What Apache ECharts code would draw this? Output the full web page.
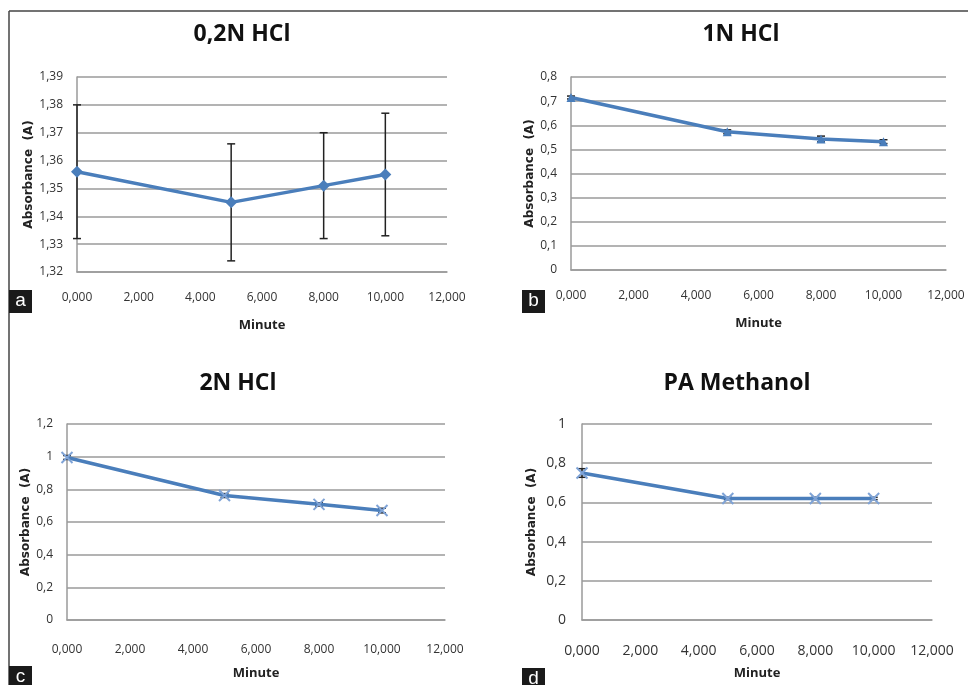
<!DOCTYPE html>
<html>
<head>
<meta charset="utf-8">
<script src="https://cdn.jsdelivr.net/npm/echarts@6/dist/echarts.min.js"></script>
<style>
html,body{margin:0;padding:0;background:#fff;}
#chart{width:968px;height:685px;}
</style>
</head>
<body>
<div id="chart"></div>
<script>
// ---- data ----
const minutes = [0, 5, 8, 10];
const xTicks = [0, 2, 4, 6, 8, 10, 12];

const hcl02 = [1.356, 1.345, 1.351, 1.355];
const hcl02Err = [0.024, 0.021, 0.019, 0.022];

const hcl1 = [0.715, 0.573, 0.543, 0.532];
const hcl1Err = [0.006, 0.008, 0.012, 0.008];

const hcl2 = [0.995, 0.762, 0.708, 0.670];
const hcl2Err = [0.012, 0.012, 0.010, 0.014];

const methanol = [0.750, 0.620, 0.620, 0.620];
const methanolErr = [0.022, 0.006, 0.006, 0.006];

const titles = ['0,2N HCl', '1N HCl', '2N HCl', 'PA Methanol'];
const panelLetters = ['a', 'b', 'c', 'd'];
const yLabel = 'Absorbance  (A)';
const xLabel = 'Minute';

// ---- layout ----
const grids = [
  {left: 77, top: 77, width: 370, height: 195},
  {left: 571, top: 77, width: 375, height: 193},
  {left: 67, top: 424, width: 378, height: 196},
  {left: 582, top: 424, width: 350, height: 196}
];
const yRanges = [
  {min: 1.32, max: 1.39, interval: 0.01},
  {min: 0, max: 0.8, interval: 0.1},
  {min: 0, max: 1.2, interval: 0.2},
  {min: 0, max: 1, interval: 0.2}
];
const yNameGaps = [42, 35, 34, 44];
const yLabelMargins = [14, 14, 14, 16];
const xLabelMargins = [20, 20, 24, 24];
const symbols = ['diamond', 'triangle', 'x', 'x'];
const crossPath = 'path://M0,0 L10,10 M10,0 L0,10';
const allVals = [hcl02, hcl1, hcl2, methanol];
const allErrs = [hcl02Err, hcl1Err, hcl2Err, methanolErr];
const titlePos = [[242, 34], [741, 34], [238, 383], [737, 383]];
const letterBoxes = [[9, 290], [522, 290], [9, 666], [522, 668]];

const FONT = '"Open Sans", sans-serif';
const lineColor = '#4a7ebb';
const gridColor = '#9a9a9a';

function fmtComma(v, dec) {
  return v.toFixed(dec).replace('.', ',');
}
function yDec(i) { return i === 0 ? 2 : 1; }

const xAxes = [], yAxes = [], series = [];
for (let i = 0; i < 4; i++) {
  xAxes.push({
    type: 'value', gridIndex: i, min: 0, max: 12, interval: 2,
    name: xLabel, nameLocation: 'middle', nameGap: 47,
    nameTextStyle: {fontFamily: FONT, fontWeight: 'bold', fontSize: 13, color: '#222'},
    axisLine: {show: true, lineStyle: {color: gridColor, width: 1.5}},
    axisTick: {show: false},
    splitLine: {show: false},
    axisLabel: {
      margin: xLabelMargins[i], fontFamily: FONT, fontSize: i === 3 ? 14 : 12, color: '#333',
      formatter: v => xTicks.indexOf(v) >= 0 ? fmtComma(v, 3) : ''
    }
  });
  const r = yRanges[i];
  yAxes.push({
    type: 'value', gridIndex: i, min: r.min, max: r.max, interval: r.interval,
    name: yLabel, nameLocation: 'middle', nameGap: yNameGaps[i],
    nameTextStyle: {fontFamily: '"DejaVu Sans", sans-serif', fontWeight: 'bold', fontSize: 12, color: '#222'},
    axisLine: {show: true, lineStyle: {color: gridColor, width: 1.5}},
    axisTick: {show: false},
    splitLine: {show: true, lineStyle: {color: gridColor, width: 1.5}},
    axisLabel: {
      margin: yLabelMargins[i], fontFamily: FONT, fontSize: i === 3 ? 14 : 12, color: '#333',
      formatter: v => {
        const s = fmtComma(v, yDec(i));
        return s.replace(/,0$/, '').replace(/^0,0$/, '0');
      }
    }
  });
  const vals = allVals[i];
  const errs = allErrs[i];
  series.push({
    type: 'line', xAxisIndex: i, yAxisIndex: i,
    data: minutes.map((m, k) => [m, vals[k]]),
    lineStyle: {color: lineColor, width: 3.5},
    itemStyle: {color: lineColor, borderColor: symbols[i] === 'x' ? '#7fa3d6' : lineColor, borderWidth: symbols[i] === 'x' ? 2 : 0},
    symbol: symbols[i] === 'x' ? crossPath : symbols[i],
    symbolSize: symbols[i] === 'diamond' ? 12 : (symbols[i] === 'triangle' ? 9 : 11),
    z: 3, silent: true, animation: false
  });
  series.push({
    type: 'custom', xAxisIndex: i, yAxisIndex: i,
    data: minutes.map((m, k) => [m, vals[k] - errs[k], vals[k] + errs[k]]),
    renderItem: function (params, api) {
      const x = api.value(0);
      const lo = api.coord([x, api.value(1)]);
      const hi = api.coord([x, api.value(2)]);
      const w = 4;
      const st = {stroke: '#222', lineWidth: 1.5};
      return {
        type: 'group',
        children: [
          {type: 'line', shape: {x1: lo[0], y1: lo[1], x2: hi[0], y2: hi[1]}, style: st},
          {type: 'line', shape: {x1: lo[0] - w, y1: lo[1], x2: lo[0] + w, y2: lo[1]}, style: st},
          {type: 'line', shape: {x1: hi[0] - w, y1: hi[1], x2: hi[0] + w, y2: hi[1]}, style: st}
        ]
      };
    },
    z: 2, silent: true, animation: false
  });
}

const graphics = [
  {type: 'line', shape: {x1: 9, y1: 11, x2: 968, y2: 11}, style: {stroke: '#444', lineWidth: 1.5}},
  {type: 'line', shape: {x1: 9, y1: 11, x2: 9, y2: 685}, style: {stroke: '#444', lineWidth: 1.5}}
];
for (let i = 0; i < 4; i++) {
  graphics.push({
    type: 'text', x: titlePos[i][0], y: titlePos[i][1],
    style: {text: titles[i], fontFamily: FONT, fontWeight: 'bold', fontSize: 23, fill: '#111',
            textAlign: 'center', textVerticalAlign: 'middle'}
  });
  const b = letterBoxes[i];
  graphics.push({type: 'rect', shape: {x: b[0], y: b[1], width: 23, height: 23}, style: {fill: '#1a1a1a'}});
  graphics.push({
    type: 'text', x: b[0] + 11.5, y: b[1] + 11,
    style: {text: panelLetters[i], fontFamily: '"Liberation Sans", Arial, sans-serif', fontSize: 19, fill: '#fff',
            textAlign: 'center', textVerticalAlign: 'middle'}
  });
}

const chart = echarts.init(document.getElementById('chart'), null, {renderer: 'canvas'});
chart.setOption({
  animation: false,
  backgroundColor: '#fff',
  grid: grids,
  xAxis: xAxes,
  yAxis: yAxes,
  series: series,
  graphic: graphics
});
</script>
</body>
</html>
